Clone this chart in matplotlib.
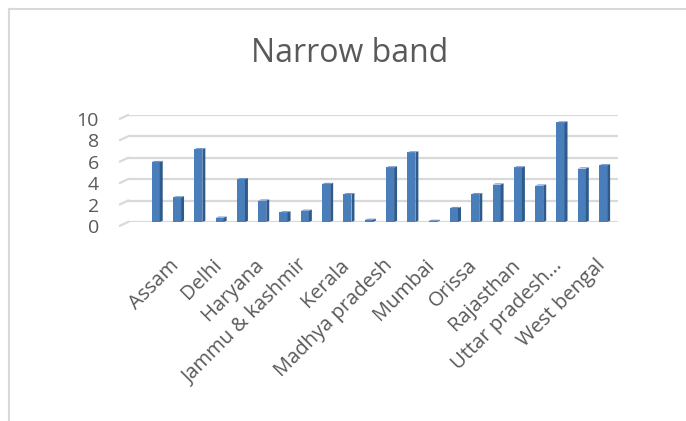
import matplotlib.pyplot as plt
from matplotlib.patches import Polygon
from matplotlib.lines import Line2D
from matplotlib.transforms import ScaledTranslation

# circles (only every other one gets a visible label, like the original)
circles = ['Andhra pradesh', 'Assam', 'Bihar', 'Delhi', 'Gujarat', 'Haryana',
           'Himachal pradesh', 'Jammu & kashmir', 'Karnataka', 'Kerala',
           'Kolkata', 'Madhya pradesh', 'Maharashtra', 'Mumbai', 'North east',
           'Orissa', 'Punjab', 'Rajasthan', 'Tamil nadu', 'Uttar pradesh...',
           'Uttar pradesh (west)', 'West bengal']
narrow_band = [5.6, 2.3, 6.8, 0.4, 4.0, 2.0, 0.9, 1.05, 3.55, 2.6, 0.2,
               5.1, 6.5, 0.1, 1.3, 2.6, 3.5, 5.1, 3.4, 9.3, 5.0, 5.3]
y_ticks = [0, 2, 4, 6, 8, 10]

front = '#4a7ebb'
side = '#2f5b8c'
top = '#6d97cc'
grey = '#595959'
font = 'Open Sans'

fig = plt.figure(figsize=(6.86, 4.21), dpi=100)
W, H = 686, 421
ax = fig.add_axes([128 / W, (H - 222) / H, 490 / W, 107 / H])

x = list(range(len(circles)))
bw = 0.38
dx, dy = 0.14, 0.28  # 3d depth in data units

ax.bar(x, narrow_band, width=bw, color=front, zorder=3, linewidth=0)
for xi, v in zip(x, narrow_band):
    r = xi + bw / 2
    l = xi - bw / 2
    ax.add_patch(Polygon([(r, 0), (r + dx, dy * 0.4), (r + dx, v + dy * 0.4), (r, v)],
                         closed=True, color=side, zorder=3, linewidth=0))
    ax.add_patch(Polygon([(l, v), (l + dx, v + dy * 0.4), (r + dx, v + dy * 0.4), (r, v)],
                         closed=True, color=top, zorder=3, linewidth=0))

ax.set_xlim(-1.3, 21.7)
ax.set_ylim(0, 10)

# gridlines with the little 3d floor stub on the left
for t in y_ticks:
    ax.axhline(t, color='#d9d9d9', lw=1.6, zorder=1)
    ax.plot([-8 / 490, 0], [t - 0.35, t], transform=ax.get_yaxis_transform(),
            color='#d9d9d9', lw=1.6, clip_on=False)

for s in ax.spines.values():
    s.set_visible(False)

ax.set_yticks(y_ticks)
ax.set_yticklabels([str(t) for t in y_ticks], fontsize=14, color=grey, family=font)
ax.tick_params(axis='y', length=0, pad=21)
for lab in ax.get_yticklabels():
    lab.set_transform(lab.get_transform() + ScaledTranslation(0, -0.04, fig.dpi_scale_trans))

shown = x[1::2]
ax.set_xticks(shown)
ax.set_xticklabels(circles[1::2], rotation=45, ha='right', va='top',
                   rotation_mode='anchor', fontsize=14.5, color=grey, family=font)
ax.tick_params(axis='x', length=0, pad=24)
for lab in ax.get_xticklabels():
    lab.set_transform(lab.get_transform() + ScaledTranslation(-0.08, 0, fig.dpi_scale_trans))

fig.text(350 / W, 1 - 53 / H, 'Narrow band', ha='center', va='center',
         fontsize=23, color=grey, family=font)

# chart frame (only top and left visible in the crop)
fig.add_artist(Line2D([9 / W, 9 / W], [0, 1 - 9 / H], transform=fig.transFigure,
                      color='#d9d9d9', lw=1.5))
fig.add_artist(Line2D([9 / W, 1], [1 - 9 / H, 1 - 9 / H], transform=fig.transFigure,
                      color='#d9d9d9', lw=1.5))

fig.savefig('out.png', dpi=100, facecolor='white')
